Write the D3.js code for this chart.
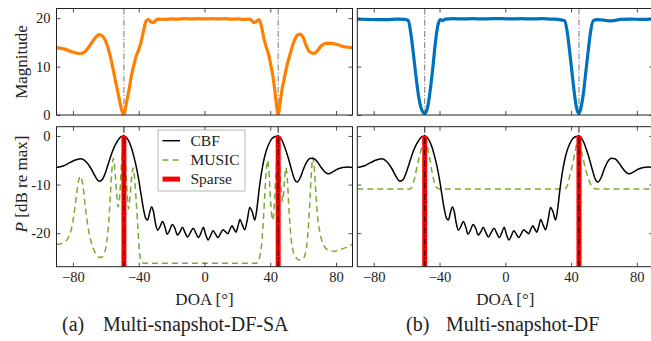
<!DOCTYPE html>
<html>
<head>
<meta charset="utf-8">
<script src="https://cdn.jsdelivr.net/npm/d3@7/dist/d3.min.js"></script>
<style>
body { margin: 0; background: #fff; }
svg text { font-family: "Liberation Serif", "DejaVu Serif", serif; fill: #222; }
</style>
</head>
<body>
<svg id="fig" width="651" height="341"></svg>
<script>
// ---- data ----
var doaTicks = [-80, -40, 0, 40, 80];
var magTicks = [0, 10, 20];
var powTicks = [-20, -10, 0];
var sourceDoa = [-49, 44.8];          // true DOAs (dash-dot lines)
var sparseDoa = [-49, 44.8];          // sparse solution, 0 dB stems

// top-left: magnitude, DF-SA (orange)
var magSA = [[-90,13.9],[-85,13.6],[-80,13.0],[-76,12.7],[-73,13.0],[-70,14.2],[-67,15.7],[-64,16.6],[-62,16.3],
  [-60,15.2],[-58,13.1],[-56,10.2],[-54,6.8],[-52,3.6],[-50.3,1.0],[-49,0],[-47.5,2.5],[-46,5.0],[-44.5,8.0],
  [-43,10.3],[-41.5,12.2],[-40,13.5],[-38.5,15.2],[-37,17.5],[-35.5,19.4],[-34,19.7],[-32.5,19.2],[-31,19.1],
  [-29.5,19.6],[-28,19.8],[-24,19.75],[-20,19.85],[-16,19.8],[-12,19.9],[-8,19.85],[-4,19.9],[0,19.85],[4,19.9],
  [8,19.85],[12,19.9],[16,19.8],[20,19.85],[24,19.75],[27,19.8],[28.5,19.6],[30,19.1],[31.5,19.3],[33,19.7],
  [34.5,18.5],[36,16.0],[37.6,14.0],[39,12.5],[40.5,10.0],[41.6,8.0],[42.8,5.0],[43.8,2.0],[44.8,0],[45.8,2.0],
  [47,5.0],[48.5,7.5],[50,10.0],[52,12.5],[54,14.8],[56,16.3],[58,16.7],[60,16.0],[62,14.2],[64,13.0],[66.5,12.7],
  [68.5,13.2],[71,14.3],[74,14.8],[77,14.8],[81,14.5],[85,14.1],[90,13.9]];

// top-right: magnitude, DF (blue)
var magDF = [[-90,19.8],[-84,19.75],[-78,19.7],[-72,19.7],[-66,19.8],[-61,19.75],[-59,19.5],[-57.5,17.0],[-56,13.0],
  [-54.5,8.5],[-53,4.5],[-51.5,1.8],[-49,0.3],[-47,2.0],[-45.5,5.5],[-44,10.0],[-42.5,15.0],[-41,18.5],[-39.5,19.7],
  [-38,19.5],[-36.5,19.8],[-32,19.9],[-26,19.85],[-20,19.9],[-14,19.85],[-8,19.9],[-2,19.9],[4,19.85],[10,19.9],
  [16,19.85],[22,19.9],[28,19.8],[32,19.75],[34.5,19.6],[36,19.5],[37.5,17.5],[39,13.5],[40.5,9.0],[42,4.5],
  [43.3,1.5],[44.8,0.3],[46,1.5],[47.5,4.5],[49,9.0],[50.5,13.5],[52,17.5],[53.5,19.5],[56,19.7],[60,19.6],
  [63,19.45],[66,19.5],[70,19.75],[76,19.8],[82,19.75],[90,19.8]];

// bottom: conventional beamformer (same in both panels)
var cbf = [[-90,-6.5],[-86,-6.2],[-82,-5.5],[-78,-4.9],[-75,-4.7],[-72,-5.3],[-69,-6.7],[-66.5,-8.3],[-64,-9.3],
  [-62,-8.9],[-60,-7.3],[-58,-5.2],[-56,-3.2],[-54,-1.7],[-52,-0.6],[-50.5,-0.1],[-49,0],[-47.5,-0.3],[-46,-1.1],
  [-44.5,-2.4],[-43,-4.2],[-41.5,-6.3],[-40,-9.0],[-38.5,-12.2],[-37,-15.2],[-35.8,-16.9],[-34.6,-17.3],
  [-33.4,-15.8],[-32.2,-14.6],[-31,-15.6],[-29.8,-18.0],[-28.5,-19.4],[-27,-18.6],[-25.5,-17.6],[-24,-18.8],
  [-22.7,-20.2],[-21.3,-19.5],[-19.6,-18.2],[-18,-19.0],[-16.5,-20.4],[-15,-19.8],[-13.4,-18.8],[-11.8,-19.9],
  [-10.3,-20.8],[-8.6,-19.9],[-6.8,-19.0],[-5.1,-20.1],[-3.6,-20.9],[-2.1,-19.9],[-0.7,-18.8],[0.8,-20.4],
  [2.2,-21.4],[3.7,-20.5],[5.2,-19.5],[6.7,-20.2],[8.2,-20.9],[9.7,-20.1],[11.2,-19.3],[12.7,-19.7],[14.2,-20.1],
  [15.5,-19.2],[16.7,-18.5],[18,-19.2],[19.2,-19.8],[20.4,-18.5],[21.6,-17.2],[23,-18.3],[24.5,-19.3],[26,-17.3],
  [27.5,-14.7],[29,-15.6],[30.6,-17.3],[32,-14.6],[33.3,-10.8],[34.7,-7.5],[36.2,-4.8],[37.8,-2.8],[39.5,-1.4],
  [41.2,-0.5],[43,-0.1],[44.8,0],[46.2,-0.4],[47.7,-1.3],[49.3,-2.8],[51,-4.6],[52.8,-6.8],[54.6,-8.8],[56.4,-9.5],
  [58.2,-8.6],[60.2,-6.8],[62.3,-5.3],[64.5,-4.6],[66.7,-4.7],[68.8,-5.4],[71,-6.5],[73.5,-7.5],[75.5,-7.8],
  [78,-7.4],[81,-6.8],[84,-6.5],[87,-6.4],[90,-6.5]];

// bottom-left: MUSIC, DF-SA
var musicSA = [[-90,-22.3],[-86,-22.0],[-83,-21.0],[-80.5,-18.5],[-78.5,-14.0],[-77,-10.0],[-75.5,-8.3],[-74,-10.0],
  [-72.5,-14.5],[-70.5,-19.4],[-68,-22.8],[-65,-24.7],[-63,-25.0],[-61,-24.2],[-59.5,-22.0],[-58.3,-18.0],
  [-57.2,-12.0],[-56.2,-6.5],[-55.4,-4.6],[-54.6,-6.5],[-53.6,-11.0],[-52.5,-14.6],[-51.5,-12.0],[-50.5,-6.0],
  [-49.2,-2.5],[-48,-6.0],[-47,-12.0],[-46.2,-15.0],[-45.2,-12.0],[-44.2,-8.0],[-43.4,-6.6],[-42.6,-8.5],
  [-41.6,-13.0],[-40.5,-19.0],[-39.5,-24.0],[-38.5,-25.8],[-37,-26.2],[0,-26.2],[31.5,-26.2],[33,-25.5],
  [34.5,-23.0],[35.5,-19.0],[36.5,-13.0],[37.5,-7.5],[38.4,-5.0],[39.3,-8.0],[40.3,-14.0],[41.4,-17.3],
  [42.4,-14.5],[43.4,-8.0],[44.5,-3.5],[45.6,-6.0],[46.6,-11.0],[47.6,-13.5],[48.6,-9.5],[49.5,-6.5],[50.4,-9.0],
  [51.4,-15.5],[52.8,-21.5],[54.7,-24.5],[57.5,-25.5],[60,-25.2],[62,-23.0],[63.3,-18.0],[64.3,-12.0],
  [65.2,-6.5],[65.9,-4.4],[66.7,-6.5],[67.6,-11.0],[68.6,-16.0],[70,-19.5],[72.5,-22.5],[75.5,-23.5],
  [79,-23.7],[83,-23.3],[87,-22.8],[90,-22.3]];

// bottom-right: MUSIC, DF
var musicDF = [[-90,-10.9],[-70,-10.9],[-58,-10.9],[-56.5,-10.3],[-55,-8.5],[-53.5,-6.0],[-52,-4.0],[-50.5,-1.8],
  [-49,0],[-47.5,-2.0],[-46,-4.5],[-44.5,-7.5],[-43,-9.7],[-41.5,-10.7],[-40,-10.9],[0,-10.9],[36,-10.9],
  [37.5,-10.4],[39,-8.5],[40.5,-6.5],[42,-4.0],[43.5,-1.5],[44.8,0],[46,-2.5],[47.5,-5.0],[49.3,-7.4],
  [51,-9.2],[53,-10.5],[55,-10.9],[70,-10.9],[90,-10.9]];

var legendNames = ["CBF", "MUSIC", "Sparse"];

// ---- layout ----
var axW = 296;
var topY0 = 8.5, topY1 = 115, botY0 = 126.7, botY1 = 266.7;
var panels = [
  {x0: 56.5, mag: magSA, magColor: "#ff8000", music: musicSA, labels: true, tag: "(a)", name: "Multi-snapshot-DF-SA", tagX: 62, nameX: 103},
  {x0: 357.3, mag: magDF, magColor: "#0072bd", music: musicDF, labels: false, tag: "(b)", name: "Multi-snapshot-DF", tagX: 406, nameX: 446}
];

var svg = d3.select("#fig");
var dashDot = "6,2,1.2,2";

function boxAxes(g, x, y, x0, y0, x1, y1, ticksY, showX, showY) {
  g.append("g").attr("transform", "translate(0," + y1 + ")")
    .call(d3.axisBottom(x).tickValues(doaTicks).tickSize(-4).tickSizeOuter(0).tickPadding(5)
      .tickFormat(showX ? d3.format("d") : ""));
  g.append("g").attr("transform", "translate(0," + y0 + ")")
    .call(d3.axisTop(x).tickValues(doaTicks).tickSize(-4).tickSizeOuter(0).tickFormat(""));
  g.append("g").attr("transform", "translate(" + x0 + ",0)")
    .call(d3.axisLeft(y).tickValues(ticksY).tickSize(-4).tickSizeOuter(0).tickPadding(6)
      .tickFormat(showY ? function(d) { return d < 0 ? "-" + (-d) : d; } : ""));
  g.append("g").attr("transform", "translate(" + x1 + ",0)")
    .call(d3.axisRight(y).tickValues(ticksY).tickSize(-4).tickSizeOuter(0).tickFormat(""));
  g.selectAll(".domain").remove();
  g.selectAll(".tick line").attr("stroke", "#222").attr("stroke-width", 0.8);
  g.selectAll(".tick text").attr("font-size", 14.5).attr("fill", "#222");
  g.append("rect").attr("x", x0).attr("y", y0).attr("width", x1 - x0).attr("height", y1 - y0)
    .attr("fill", "none").attr("stroke", "#222").attr("stroke-width", 1);
}

panels.forEach(function(p, i) {
  var x = d3.scaleLinear().domain([-90, 90]).range([p.x0, p.x0 + axW]);
  var yMag = d3.scaleLinear().domain([0, 22]).range([topY1, topY0]);
  var yPow = d3.scaleLinear().domain([-26.9, 1.9]).range([botY1, botY0]);
  var x1 = p.x0 + axW;

  var clipT = "clipT" + i, clipB = "clipB" + i;
  var defs = svg.append("defs");
  defs.append("clipPath").attr("id", clipT).append("rect")
    .attr("x", p.x0).attr("y", topY0).attr("width", axW).attr("height", topY1 - topY0);
  defs.append("clipPath").attr("id", clipB).append("rect")
    .attr("x", p.x0).attr("y", botY0).attr("width", axW).attr("height", botY1 - botY0);

  // ---- top: magnitude ----
  var gt = svg.append("g");
  var pt = gt.append("g").attr("clip-path", "url(#" + clipT + ")");
  pt.selectAll("line.doa").data(sourceDoa).enter().append("line")
    .attr("x1", x).attr("x2", x).attr("y1", topY0).attr("y2", topY1)
    .attr("stroke", "#555").attr("stroke-width", 0.8).attr("stroke-dasharray", dashDot);
  pt.append("path").datum(p.mag)
    .attr("d", d3.line().x(function(d) { return x(d[0]); }).y(function(d) { return yMag(d[1]); }).curve(d3.curveMonotoneX))
    .attr("fill", "none").attr("stroke", p.magColor).attr("stroke-width", 3.2).attr("stroke-linejoin", "round");
  boxAxes(gt, x, yMag, p.x0, topY0, x1, topY1, magTicks, false, p.labels);

  // ---- bottom: spectra ----
  var gb = svg.append("g");
  var pb = gb.append("g").attr("clip-path", "url(#" + clipB + ")");
  var line = d3.line().x(function(d) { return x(d[0]); }).y(function(d) { return yPow(d[1]); }).curve(d3.curveMonotoneX);
  pb.append("path").datum(p.music).attr("d", line)
    .attr("fill", "none").attr("stroke", "#77ac30").attr("stroke-width", 1.5).attr("stroke-dasharray", "6,4");
  pb.append("path").datum(cbf).attr("d", line)
    .attr("fill", "none").attr("stroke", "#000").attr("stroke-width", 1.5);
  pb.selectAll("line.sp").data(sparseDoa).enter().append("line")
    .attr("x1", x).attr("x2", x).attr("y1", yPow(0)).attr("y2", botY1)
    .attr("stroke", "#ff0000").attr("stroke-width", 5);
  pb.selectAll("line.doa").data(sourceDoa).enter().append("line")
    .attr("x1", x).attr("x2", x).attr("y1", botY0).attr("y2", botY1)
    .attr("stroke", "#000").attr("stroke-width", 0.9).attr("stroke-dasharray", dashDot);
  boxAxes(gb, x, yPow, p.x0, botY0, x1, botY1, powTicks, true, p.labels);

  // x label + caption
  svg.append("text").attr("x", p.x0 + axW / 2).attr("y", 305).attr("text-anchor", "middle")
    .attr("font-size", 17).text("DOA [°]");
  svg.append("text").attr("x", p.tagX).attr("y", 331).attr("font-size", 20).text(p.tag);
  svg.append("text").attr("x", p.nameX).attr("y", 331).attr("font-size", 20).text(p.name);
});

// y labels
svg.append("text").attr("transform", "translate(27,62) rotate(-90)").attr("text-anchor", "middle")
  .attr("font-size", 17).text("Magnitude");
var yl = svg.append("text").attr("transform", "translate(27,184) rotate(-90)").attr("text-anchor", "middle")
  .attr("font-size", 17);
yl.append("tspan").attr("font-style", "italic").text("P");
yl.append("tspan").text(" [dB re max]");

// legend
var lg = svg.append("g");
lg.append("rect").attr("x", 158).attr("y", 130).attr("width", 87).attr("height", 61)
  .attr("fill", "#fff").attr("stroke", "#999").attr("stroke-width", 0.7);
var legStyle = [
  {color: "#000", width: 1.5, dash: null},
  {color: "#77ac30", width: 1.5, dash: "6,4"},
  {color: "#ff0000", width: 5, dash: null}
];
legendNames.forEach(function(n, k) {
  var yy = 140.7 + k * 19.2;
  lg.append("line").attr("x1", 162.5).attr("x2", 180).attr("y1", yy).attr("y2", yy)
    .attr("stroke", legStyle[k].color).attr("stroke-width", legStyle[k].width)
    .attr("stroke-dasharray", legStyle[k].dash);
  lg.append("text").attr("x", 190.5).attr("y", yy + 5).attr("font-size", 15.5).text(n);
});
</script>
</body>
</html>
